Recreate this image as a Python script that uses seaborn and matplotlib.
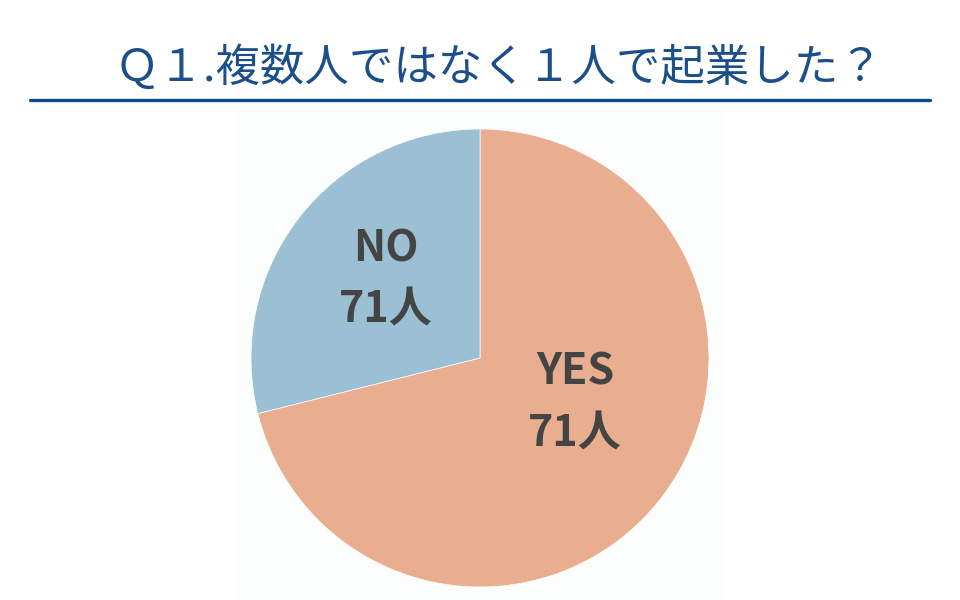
import matplotlib
matplotlib.use("Agg")
import matplotlib.pyplot as plt
import seaborn as sns

# data
labels = ["YES", "NO"]
values = [71.1, 28.9]
counts = ["71人", "71人"]
colors = ["#E8AE8F", "#9BBFD3"]
title = "Ｑ１.複数人ではなく１人で起業した？"

sns.set_theme(style="white")
plt.rcParams['font.family'] = ['Noto Sans CJK JP', 'DejaVu Sans']

fig = plt.figure(figsize=(9.6, 6), dpi=100)
fig.patch.set_facecolor("white")

# faint panel behind the pie
bg = fig.add_axes([236 / 960, 0, (725 - 236) / 960, (600 - 110) / 600])
bg.set_facecolor("#FCFDFD")
bg.set_xticks([])
bg.set_yticks([])
for s in bg.spines.values():
    s.set_visible(False)

ax = fig.add_axes([251 / 960, 13 / 600, 458 / 960, 458 / 600])
wedges, _ = ax.pie(values, colors=colors, startangle=90, counterclock=False,
                   wedgeprops=dict(linewidth=0.5, edgecolor="white"))
ax.set_xlim(-1, 1)
ax.set_ylim(-1, 1)
ax.set_aspect("equal")

# labels inside slices
pos = {"YES": (0.415, -0.195), "NO": (-0.41, 0.345)}
for lab, cnt in zip(labels, counts):
    x, y = pos[lab]
    ax.text(x, y, lab + "\n" + cnt, ha="center", va="center", fontsize=31,
            fontweight="bold", color="#444444", linespacing=1.5)

fig.text(499 / 960, 1 - 68 / 600, title, ha="center", va="center",
         fontsize=32, color="#1B4F8A")
fig.add_artist(plt.Line2D([30 / 960, 930 / 960], [1 - 100 / 600, 1 - 100 / 600],
                          color="#0B4C86", linewidth=2.4))

fig.savefig("out.png", dpi=100)
